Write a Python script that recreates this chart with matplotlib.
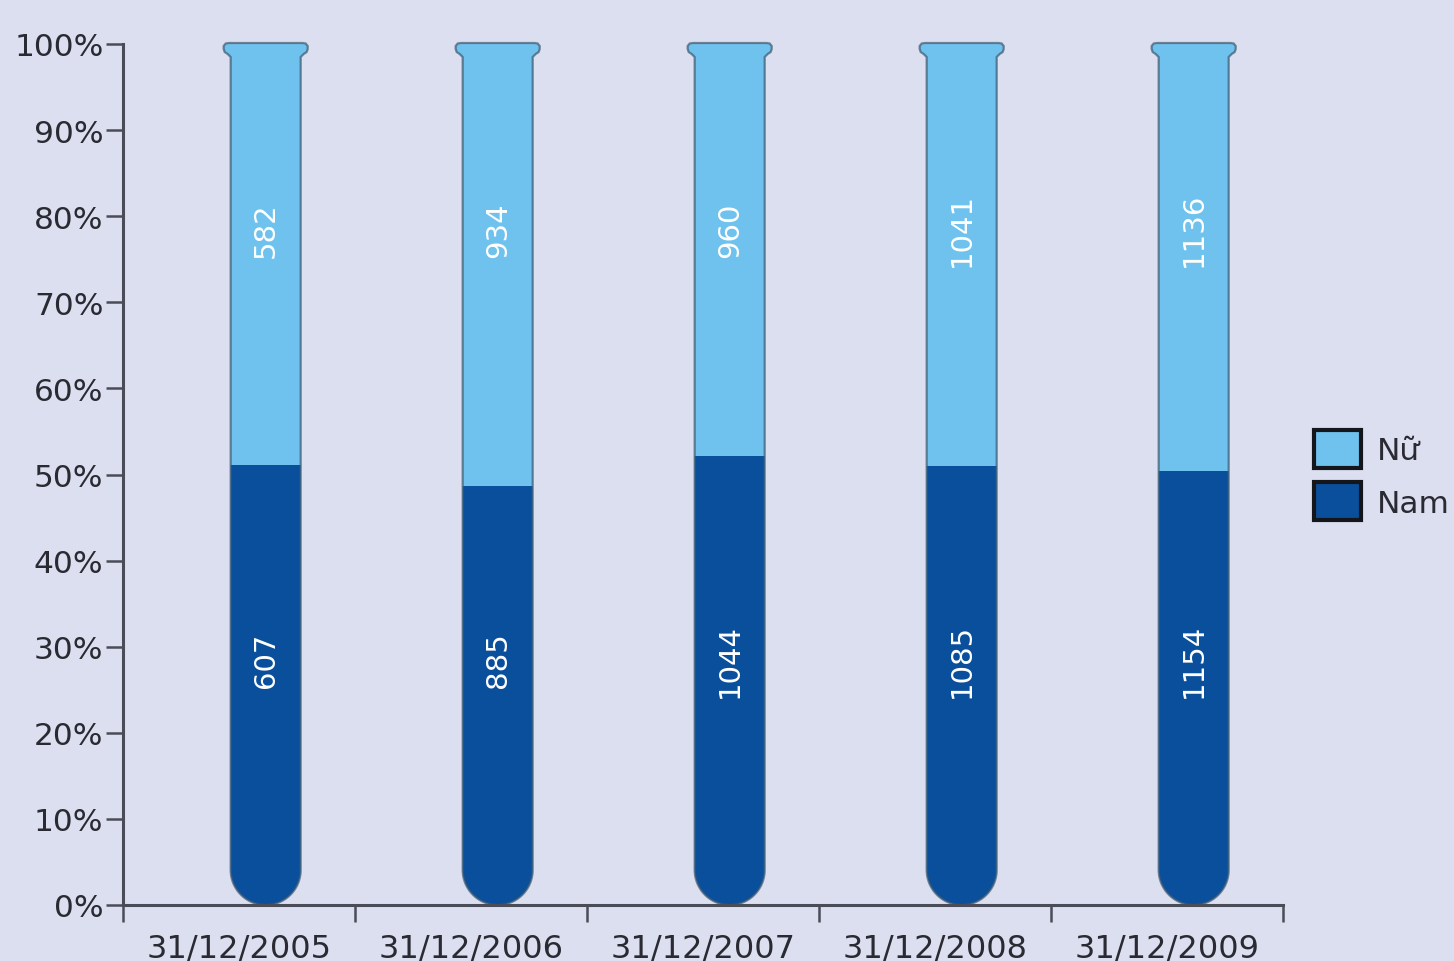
import numpy as np
import matplotlib
matplotlib.use("Agg")
import matplotlib.pyplot as plt
from matplotlib.patches import Polygon, Patch

# staff counts at year end
dates = ["31/12/2005", "31/12/2006", "31/12/2007", "31/12/2008", "31/12/2009"]
nam = [607, 885, 1044, 1085, 1154]
nu = [582, 934, 960, 1041, 1136]
y_ticks = [0, 10, 20, 30, 40, 50, 60, 70, 80, 90, 100]

BG = "#dcdff0"
LIGHT = "#6fc2ee"
DARK = "#0a4f9c"
AXIS = "#4a4c58"
OUTLINE = "#3f5a70"

W, H, DPI = 1454, 962, 100
plt.rcParams["font.family"] = "DejaVu Sans"

fig = plt.figure(figsize=(W / DPI, H / DPI), dpi=DPI, facecolor=BG)
ax_l, ax_b, ax_w, ax_h = 123, 56, 1160, 861
ax = fig.add_axes([ax_l / W, ax_b / H, ax_w / W, ax_h / H])
ax.set_facecolor(BG)
ax.set_xlim(-0.5, len(dates) - 0.5)
ax.set_ylim(0, 100)

# pixel -> data scale so the tube ends look round
px_x = (len(dates)) / ax_w
px_y = 100 / ax_h


def tube_outline(xc):
    r = 35
    pts = []
    for t in np.linspace(np.pi, 2 * np.pi, 40):
        pts.append((r * np.cos(t), r + r * np.sin(t)))
    side_top = 848
    pts += [(35, side_top), (38, 851), (41, 853), (42, 856), (42, 859),
            (40, 861.5), (37, 862)]
    pts += [(-37, 862), (-40, 861.5), (-42, 859), (-42, 856), (-41, 853),
            (-38, 851), (-35, side_top)]
    return [(xc + dx * px_x, dy * px_y) for dx, dy in pts]


x = np.arange(len(dates))
tube_x = x + 0.115
nam_pct = [100 * a / (a + b) for a, b in zip(nam, nu)]

for i, xc in enumerate(tube_x):
    verts = tube_outline(xc)
    body = Polygon(verts, closed=True, facecolor=LIGHT, edgecolor="none",
                   zorder=2, clip_on=False)
    ax.add_patch(body)
    bars = ax.bar([xc], [nam_pct[i]], width=0.4, color=DARK, zorder=3)
    bars += ax.bar([xc], [100 - nam_pct[i]], bottom=[nam_pct[i]], width=0.4,
                   color=LIGHT, zorder=3)
    for b in bars:
        b.set_clip_path(body)
    ax.add_patch(Polygon(verts, closed=True, facecolor="none",
                         edgecolor=OUTLINE, lw=1.6, zorder=4, clip_on=False,
                         alpha=0.7))
    ax.text(xc, 28.5, str(nam[i]), rotation=90, ha="center", va="center",
            color="white", fontsize=21, zorder=5)
    ax.text(xc, 78.5, str(nu[i]), rotation=90, ha="center", va="center",
            color="white", fontsize=21, zorder=5)

# axes styling
for s in ["top", "right"]:
    ax.spines[s].set_visible(False)
for s in ["left", "bottom"]:
    ax.spines[s].set_color(AXIS)
    ax.spines[s].set_linewidth(2.2)
    ax.spines[s].set_zorder(6)

ax.set_yticks(y_ticks)
ax.set_yticklabels([f"{v}%" for v in y_ticks])
ax.tick_params(axis="y", length=12, width=1.8, color=AXIS, labelsize=22.5,
               labelcolor="#2a2a33", pad=2)

ax.set_xticks(np.arange(-0.5, len(dates), 1.0))
ax.set_xticklabels([])
ax.set_xticks(x, minor=True)
ax.set_xticklabels(dates, minor=True)
ax.tick_params(axis="x", which="major", length=12, width=1.8, color=AXIS)
ax.tick_params(axis="x", which="minor", length=0, labelsize=23,
               labelcolor="#2a2a33", pad=20)

handles = [Patch(facecolor=LIGHT, edgecolor="#15161c", lw=3, label="Nữ"),
           Patch(facecolor=DARK, edgecolor="#15161c", lw=3, label="Nam")]
fig.legend(handles=handles, loc="upper left",
           bbox_to_anchor=(1314 / W, 1 - 431 / H), frameon=False,
           fontsize=22.5, handlelength=1.5, handleheight=1.5,
           handletextpad=0.5, labelspacing=0.45, borderpad=0,
           borderaxespad=0, labelcolor="#2a2a33")

fig.savefig("out.png", dpi=DPI, facecolor=BG)
